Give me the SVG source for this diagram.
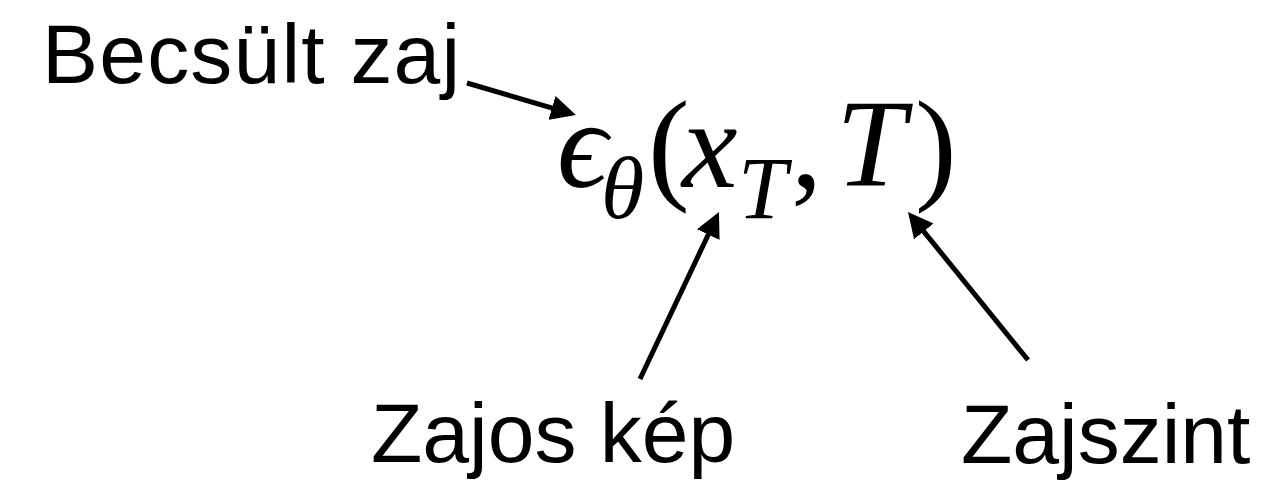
<svg xmlns="http://www.w3.org/2000/svg" width="1272" height="481" viewBox="0 0 1272 481">
<style>
.lbl{font-family:"Liberation Sans",Arial,Helvetica,sans-serif;font-size:84px;fill:#000}
.m{font-family:"Liberation Serif","DejaVu Serif","Times New Roman",serif;fill:#000}
.i{font-style:italic}
.big{font-size:125px}
.sub{font-size:88px}
.conn{stroke:#000;stroke-width:5;fill:none;marker-end:url(#ah)}
</style>
<defs>
<marker id="ah" markerUnits="userSpaceOnUse" markerWidth="25" markerHeight="25" viewBox="0 0 25 25" refX="12" refY="12.5" orient="auto">
<path d="M0,0 L25,12.5 L0,25 z" fill="#000"/>
</marker>
</defs>
<rect width="1272" height="481" fill="#fff"/>
<g id="formula">
<text class="m big"><tspan class="i" x="557" y="187">ϵ</tspan><tspan class="i sub" x="601" y="218">θ</tspan><tspan x="648" y="187">(</tspan><tspan class="i" x="682" y="187">x</tspan><tspan class="i sub" x="738" y="218">T</tspan><tspan x="791" y="187">,</tspan><tspan class="i" x="836" y="186">T</tspan><tspan x="915" y="187">)</tspan></text>
</g>
<g id="label-becsult"><text class="lbl" x="42" y="83" style="letter-spacing:1.2px">Becsült zaj</text></g>
<g id="label-zajos"><text class="lbl" x="371" y="462">Zajos kép</text></g>
<g id="label-zajszint"><text class="lbl" x="961" y="463">Zajszint</text></g>
<g id="connectors">
<line class="conn" x1="467" y1="83" x2="563.5" y2="111.3"/>
<line class="conn" x1="640" y1="379" x2="713.4" y2="223.8"/>
<line class="conn" x1="1028" y1="360" x2="916.2" y2="222.1"/>
</g>
</svg>
